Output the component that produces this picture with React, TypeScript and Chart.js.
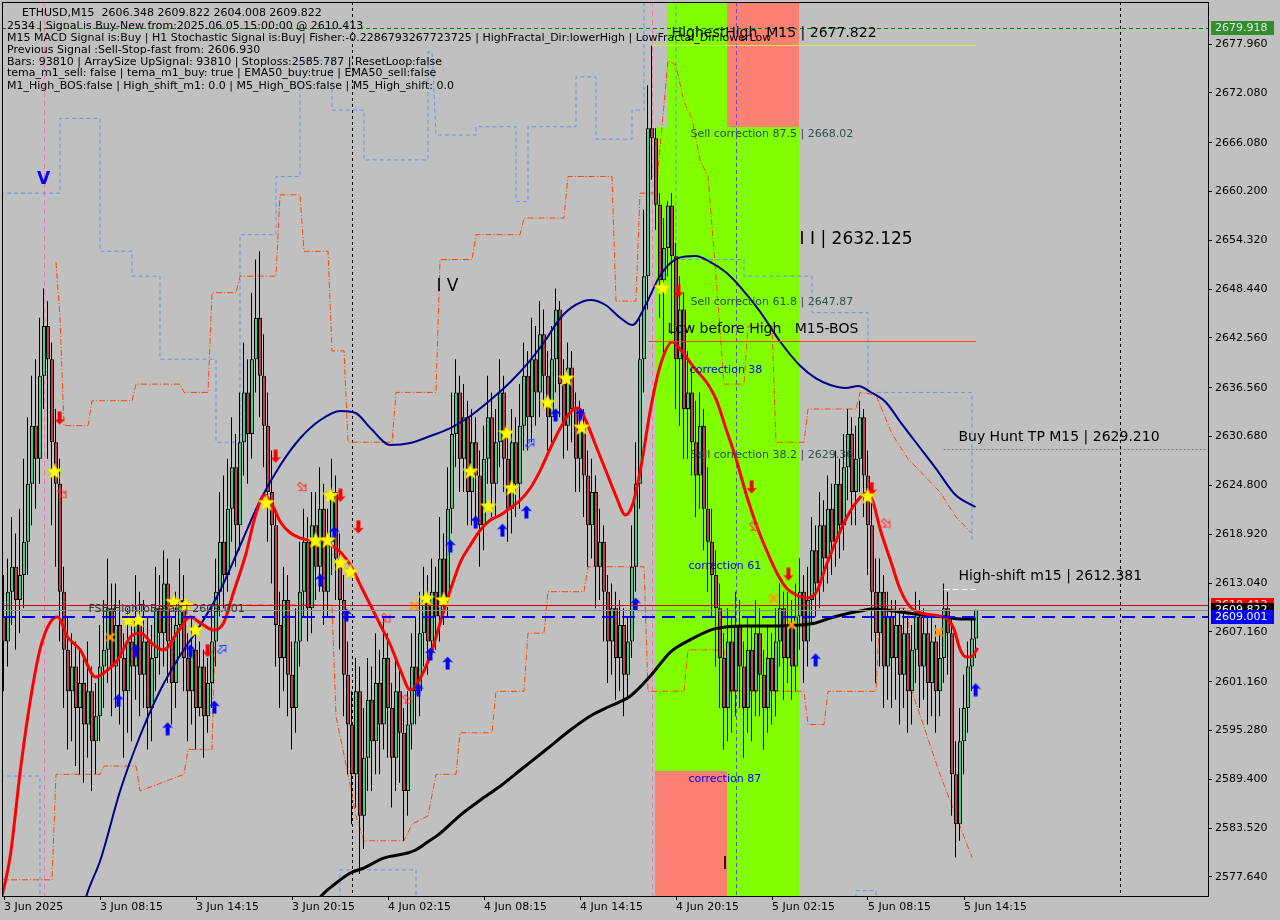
import React, { useEffect, useRef } from "react";
import { Chart, registerables } from "chart.js";

Chart.register(...registerables);
Chart.defaults.font.family = "'DejaVu Sans', sans-serif";

// ---------------- data ----------------
const FIRST_OPEN = 2609;
const closes = [
  2606, 2612, 2615, 2611, 2614, 2618, 2625, 2632, 2628, 2638, 2644, 2640, 2630, 2625, 2612, 2605, 2600,
  2603, 2598, 2601, 2596, 2600, 2594, 2597, 2603, 2605, 2610, 2603, 2608, 2604, 2600, 2606, 2603,
  2609, 2602, 2606, 2598, 2604, 2610, 2607, 2613, 2606, 2601, 2608, 2611, 2604, 2600, 2605, 2598, 2603,
  2597, 2601, 2606, 2612, 2618, 2614, 2622, 2627, 2620, 2630, 2636, 2631, 2640, 2645, 2638,
  2632, 2624, 2620, 2608, 2604, 2611, 2602, 2598, 2606, 2612,
  2618, 2610, 2620, 2615, 2622, 2612, 2618, 2624, 2616, 2611,
  2602, 2596, 2590, 2600, 2585,
  2592, 2599, 2594, 2601, 2596, 2604, 2598, 2592, 2600, 2595, 2588, 2596,
  2603, 2600, 2607, 2611, 2606, 2612, 2609, 2616, 2611,
  2622, 2631, 2636, 2628, 2633, 2624, 2630, 2626,
  2620, 2628, 2633, 2625, 2630, 2636, 2628, 2622, 2630, 2625, 2632,
  2638, 2633, 2640, 2636, 2643, 2638, 2633, 2640, 2646,
  2637, 2632, 2639, 2634, 2628, 2632,
  2626, 2620, 2624, 2615, 2618, 2612, 2606, 2610,
  2604, 2608, 2602, 2606, 2615,
  2625, 2640, 2650, 2667.8, 2666.6, 2658.6,
  2649.5, 2653.4, 2658.5, 2652.4, 2640, 2646, 2634,
  2636, 2630, 2626, 2632, 2622, 2618, 2614,
  2610, 2604, 2598, 2606, 2600, 2608, 2603, 2598, 2605, 2600, 2607, 2602, 2598,
  2604, 2600, 2606, 2610, 2604, 2608, 2603, 2609, 2612,
  2606, 2611, 2617, 2613, 2620, 2616, 2622, 2618,
  2625, 2620, 2627, 2631, 2624, 2628, 2633, 2626, 2620,
  2612, 2607, 2612, 2603, 2609, 2604,
  2608, 2602, 2607, 2600, 2605, 2609, 2603, 2607, 2601, 2606, 2600, 2604, 2610, 2607,
  2590, 2584, 2594, 2598, 2603, 2606.348, 2609.822,
];
const highs = [
  2614, 2616, 2621, 2619, 2622, 2628, 2633, 2638, 2640, 2645,
  2648.5, 2647, 2642, 2634, 2628, 2615, 2609, 2607, 2606, 2605,
  2604, 2606, 2603, 2601, 2608, 2611, 2616, 2613, 2613, 2611,
  2607, 2610, 2609, 2614, 2612, 2611, 2609, 2608, 2615, 2614,
  2617, 2616, 2609, 2612, 2616, 2614, 2607, 2609, 2608, 2606,
  2605, 2604, 2610, 2616, 2624, 2626, 2628, 2633, 2631, 2636,
  2642, 2640, 2648, 2652, 2653, 2643, 2636, 2629, 2622, 2612,
  2615, 2614, 2606, 2610, 2618, 2622, 2621, 2624, 2624, 2627,
  2625, 2622, 2628, 2626, 2619, 2614, 2606, 2600, 2604, 2603,
  2598, 2604, 2603, 2607, 2605, 2609, 2607, 2601, 2604, 2603,
  2598, 2600, 2607, 2609, 2612, 2615, 2614, 2616, 2615, 2621,
  2619, 2627, 2636, 2640, 2638, 2637, 2635, 2634, 2633, 2629,
  2632, 2638, 2636, 2634, 2640, 2638, 2631, 2634, 2633, 2637,
  2642, 2641, 2645, 2644, 2647, 2646, 2641, 2644, 2648.5, 2647,
  2640, 2642, 2641, 2636, 2635, 2634, 2629, 2628, 2626, 2622,
  2620, 2614, 2613, 2612, 2611, 2610, 2609, 2620, 2630, 2645,
  2658, 2673, 2677.8, 2667.8, 2660, 2657, 2659, 2660, 2654, 2650,
  2648, 2641, 2639, 2635, 2636, 2634, 2627, 2622, 2617, 2613,
  2607, 2610, 2609, 2612, 2611, 2606, 2609, 2608, 2611, 2610,
  2605, 2608, 2607, 2610, 2613, 2612, 2612, 2611, 2613, 2616,
  2614, 2615, 2621, 2620, 2624, 2623, 2626, 2625, 2629, 2628,
  2631, 2634, 2633, 2632, 2635, 2634, 2629, 2623, 2616, 2616,
  2614, 2612, 2611, 2611, 2610, 2610, 2609, 2608, 2612, 2611,
  2610, 2609, 2609, 2608, 2607, 2613, 2612, 2609, 2594, 2598,
  2602, 2606, 2609, 2609.822,
];
const lows = [
  2600, 2603, 2608, 2605, 2607, 2610, 2614, 2620, 2622, 2625,
  2634, 2628, 2620, 2615, 2606, 2598, 2593, 2594, 2591, 2590,
  2589, 2592, 2588, 2590, 2594, 2598, 2601, 2597, 2598, 2596,
  2592, 2595, 2594, 2599, 2597, 2598, 2593, 2594, 2600, 2602,
  2603, 2601, 2596, 2598, 2604, 2600, 2594, 2596, 2593, 2597,
  2592, 2595, 2598, 2603, 2609, 2610, 2612, 2618, 2615, 2617,
  2626, 2625, 2628, 2636, 2633, 2627, 2618, 2613, 2603, 2598,
  2600, 2597, 2593, 2595, 2603, 2609, 2606, 2607, 2611, 2612,
  2608, 2609, 2614, 2611, 2605, 2597, 2590, 2584, 2586, 2578,
  2581, 2588, 2588, 2590, 2590, 2593, 2592, 2586, 2588, 2589,
  2582, 2585, 2593, 2596, 2597, 2603, 2602, 2604, 2605, 2606,
  2608, 2609, 2619, 2627, 2624, 2624, 2620, 2620, 2621, 2615,
  2617, 2625, 2621, 2621, 2627, 2624, 2618, 2619, 2621, 2622,
  2629, 2629, 2630, 2632, 2633, 2634, 2629, 2630, 2636, 2633,
  2628, 2629, 2630, 2624, 2624, 2621, 2615, 2616, 2610, 2611,
  2606, 2601, 2602, 2599, 2600, 2597, 2599, 2604, 2612, 2622,
  2636, 2646, 2661.6, 2655.6, 2645, 2640, 2650, 2643, 2634, 2632,
  2628, 2628, 2626, 2621, 2622, 2617, 2612, 2609, 2603, 2598,
  2593, 2594, 2595, 2597, 2598, 2592, 2595, 2594, 2597, 2597,
  2593, 2595, 2596, 2597, 2603, 2599, 2601, 2599, 2600, 2605,
  2601, 2603, 2608, 2609, 2610, 2612, 2613, 2614, 2615, 2616,
  2617, 2623, 2620, 2620, 2624, 2621, 2614, 2606, 2601, 2603,
  2598, 2599, 2598, 2599, 2596, 2598, 2595, 2596, 2601, 2598,
  2599, 2596, 2597, 2595, 2597, 2601, 2602, 2585, 2580, 2582,
  2590, 2595, 2600, 2604.008,
];

const xTickIndex = [0, 24, 48, 72, 96, 120, 144, 168, 192, 216, 240];
const xTickLabels = [
  "3 Jun 2025", "3 Jun 08:15", "3 Jun 14:15", "3 Jun 20:15", "4 Jun 02:15", "4 Jun 08:15",
  "4 Jun 14:15", "4 Jun 20:15", "5 Jun 02:15", "5 Jun 08:15", "5 Jun 14:15",
];
const yTickValues = [
  2677.96, 2672.08, 2666.08, 2660.2, 2654.32, 2648.44, 2642.56, 2636.56, 2630.68,
  2624.8, 2618.92, 2613.04, 2607.16, 2601.16, 2595.28, 2589.4, 2583.52, 2577.64,
];
const yTickLabels = [
  "2677.960", "2672.080", "2666.080", "2660.200", "2654.320", "2648.440", "2642.560", "2636.560", "2630.680",
  "2624.800", "2618.920", "2613.040", "2607.160", "2601.160", "2595.280", "2589.400", "2583.520", "2577.640",
];

// moving averages (candle index, price)
const redMA = [
  [-1, 2574.26], [1.6, 2580.28], [4.1, 2590.52], [6.6, 2598.95], [9.1, 2605.22], [11.6, 2608.35], [13.4, 2608.95],
  [15.9, 2606.54], [19.1, 2604.97], [22.9, 2601.72], [25.9, 2602.57], [28.4, 2603.77], [31.6, 2606.54], [34.1, 2607.02],
  [37.4, 2605.58], [39.9, 2604.97], [43.4, 2607.14], [46.6, 2608.95], [49.1, 2608.23], [52.4, 2607.38], [54.9, 2608.23],
  [57.4, 2611.96], [60.4, 2616.42], [62.9, 2621.23], [65.1, 2623.64], [67.1, 2622.44], [69.1, 2620.39], [71.6, 2619.07],
  [74.1, 2618.46], [76.6, 2618.22], [79.1, 2618.22], [81.6, 2617.62], [84.1, 2616.78], [86.6, 2615.21], [89.1, 2612.8],
  [91.6, 2610.39], [94.1, 2607.99], [96.6, 2605.58], [99.1, 2602.57], [101.6, 2600.16], [104.1, 2601.6], [106.6, 2604.37],
  [109.1, 2608.35], [111.6, 2612.2], [114.1, 2615.57], [116.6, 2617.62], [119.1, 2619.43], [121.6, 2620.63], [124.1, 2621.23],
  [126.6, 2622.08], [129.1, 2623.04], [131.6, 2624.49], [134.1, 2626.65], [136.6, 2629.3], [139.1, 2631.71], [141.6, 2633.64],
  [143.6, 2634.12], [145.4, 2632.68], [147.9, 2629.66], [150.4, 2626.65], [152.9, 2623.64], [155.4, 2621.23], [157.1, 2622.44],
  [159.1, 2626.65], [161.6, 2633.88], [164.1, 2639.3], [167.1, 2642.07], [169.6, 2640.87], [172.6, 2638.94], [175.6, 2637.25],
  [178.1, 2635.08], [180.6, 2631.47], [183.1, 2627.86], [185.6, 2623.64], [188.1, 2620.03], [190.6, 2617.02], [193.1, 2614.37],
  [195.6, 2612.44], [198.1, 2611.6], [200.6, 2611.24], [203.1, 2611.96], [205.6, 2615.21], [208.1, 2618.22], [210.6, 2620.87],
  [213.1, 2622.8], [215.6, 2623.88], [217.1, 2623.04], [219.1, 2619.43], [221.6, 2615.81], [224.1, 2612.2], [226.6, 2610.15],
  [230.4, 2609.31], [235.4, 2608.83], [237.4, 2607.62], [239.1, 2604.97], [240.6, 2604.13], [242.1, 2604.25], [243.4, 2605.22],
];
const navyMA = [
  [19.1, 2572.46], [20.6, 2575.35], [24.1, 2579.68], [29.1, 2588.11], [34.1, 2594.74], [39.1, 2600.16], [44.1, 2604.37],
  [49.1, 2607.99], [54.1, 2612.2], [59.1, 2617.62], [64.1, 2623.04], [69.1, 2627.26], [74.1, 2630.51], [79.1, 2632.68],
  [84.1, 2633.76], [87.9, 2633.52], [91.6, 2631.71], [96.6, 2629.66], [101.6, 2629.9], [106.6, 2630.75], [111.6, 2631.71],
  [116.6, 2633.16], [121.6, 2635.08], [126.6, 2637.25], [131.6, 2639.9], [135.4, 2642.31], [139.1, 2644.96], [142.9, 2646.53],
  [146.6, 2647.13], [150.4, 2646.53], [154.1, 2644.96], [157.1, 2644.12], [160.4, 2646.53], [164.1, 2650.14], [168.6, 2652.19],
  [172.9, 2652.43], [176.6, 2651.7], [180.4, 2650.5], [184.1, 2648.69], [189.1, 2645.68], [194.1, 2642.07], [199.1, 2639.18],
  [202.9, 2637.73], [206.6, 2636.89], [210.4, 2636.53], [213.6, 2636.77], [216.6, 2636.05], [220.4, 2634.84], [224.1, 2632.43],
  [227.9, 2630.03], [232.9, 2626.89], [237.9, 2623.64], [242.9, 2622.2],
];
const blackMA = [
  [77.9, 2574.26], [79.1, 2575.23], [82.4, 2576.67], [86.6, 2578.12], [89.9, 2578.72], [94.9, 2579.92], [100.9, 2580.53],
  [102.9, 2580.89], [105.9, 2581.85], [109.1, 2582.93], [114.1, 2585.1], [119.1, 2586.91], [124.1, 2588.6], [129.1, 2590.52],
  [135.4, 2592.93], [141.6, 2595.34], [146.6, 2597.03], [151.6, 2598.23], [156.6, 2599.43], [161.6, 2601.84], [166.6, 2604.73],
  [171.6, 2606.22], [176.6, 2607.38], [180.4, 2607.74], [185.4, 2607.86], [191.6, 2607.86], [199.1, 2607.99], [202.9, 2608.23],
  [206.6, 2608.83], [210.4, 2609.31], [214.1, 2609.67], [217.1, 2609.91], [220.4, 2609.79], [224.1, 2609.55], [227.9, 2609.31],
  [231.6, 2609.07], [235.4, 2608.95], [239.1, 2608.71], [242.9, 2608.71],
];

// step envelopes (candle index, price)
const orangeUpper = [
  [13, 2651.7], [14, 2645], [15, 2632], [21, 2632], [22, 2635], [32, 2635], [33, 2637], [44, 2637], [45, 2636], [51, 2636],
  [52, 2648], [58, 2648], [59, 2650], [68, 2650], [69, 2659.8], [74, 2659.8], [75, 2653], [81, 2653], [82, 2641], [85, 2641],
  [86, 2630], [97, 2630], [98, 2636], [108, 2636], [109, 2652], [117, 2652], [118, 2655], [129, 2655], [130, 2657], [140, 2657],
  [141, 2662], [152, 2662], [153, 2647], [158, 2647], [159, 2660], [163, 2660], [166, 2676], [168, 2675.4], [170, 2671],
  [172, 2669], [174, 2664], [176, 2662], [178, 2650], [180, 2637], [185, 2637], [186, 2644], [192, 2644], [193, 2630],
  [200, 2630], [201, 2634], [213, 2634], [214, 2636], [218, 2635.7], [222, 2631], [226, 2628], [230, 2626], [234, 2624],
  [238, 2621], [242, 2619],
];
const orangeLower = [
  [-1, 2577.3], [12, 2577.3], [13, 2590], [24, 2590], [25, 2591], [33, 2591], [34, 2588], [45, 2590], [46, 2593], [52, 2593],
  [53, 2610.4], [82, 2610.4], [83, 2597], [86, 2590], [88, 2585], [90, 2582], [100, 2582], [102, 2584], [106, 2585],
  [108, 2590], [113, 2590], [114, 2595], [122, 2595], [123, 2600], [130, 2600], [131, 2607], [135, 2607], [136, 2612],
  [145, 2612], [146, 2615], [160, 2615], [161, 2600], [170, 2600], [171, 2605], [180, 2605], [181, 2600], [200, 2600],
  [201, 2596], [205, 2596], [206, 2600], [218, 2600], [219, 2610], [226, 2610], [227, 2600], [234, 2590], [238, 2585],
  [242, 2580],
];
const blueUpper = [
  [-1, 2660], [14, 2660], [14, 2669], [24, 2669], [24, 2653], [32, 2653], [32, 2650], [39, 2650], [39, 2640], [53, 2640],
  [53, 2630], [59, 2630], [59, 2655], [68, 2655], [68, 2662], [74, 2662], [74, 2676], [82, 2676], [82, 2670], [90, 2670],
  [90, 2664], [106, 2664], [106, 2677], [107, 2677], [108, 2667], [118, 2667], [118, 2668], [128, 2668], [128, 2659],
  [131, 2659], [131, 2668], [143, 2668], [143, 2674], [148, 2674], [148, 2666.5], [157, 2666.5], [157, 2670], [160, 2670],
  [160, 2684], [168, 2684], [168, 2652], [185, 2652], [185, 2650], [202, 2650], [202, 2645.6], [216, 2645.6], [216, 2636],
  [242, 2636], [242, 2618],
];
const blueLower = [
  [-1, 2589.8], [9, 2589.8], [9, 2570], [84, 2570], [84, 2578.5], [103, 2578.5], [103, 2570], [213, 2570], [213, 2576],
  [218, 2576], [218, 2570], [243, 2570],
];

// signal markers (candle index, price)
const starPts = [
  [12.6, 2626.5], [31.1, 2608.6], [33.6, 2608.6], [42.4, 2610.8], [45.4, 2610.4], [47.9, 2607.4], [65.6, 2622.7],
  [77.9, 2618.2], [80.9, 2618.2], [81.6, 2623.6], [84.1, 2615.5], [86.6, 2614.4], [105.6, 2611.2], [109.9, 2611.0],
  [116.6, 2626.5], [121.1, 2622.3], [125.6, 2631.1], [126.9, 2624.5], [135.9, 2634.8], [140.6, 2637.7], [144.4, 2631.8],
  [164.6, 2648.6], [215.9, 2623.5],
];
const buyArrowPts = [
  [28.6, 2598.9], [32.9, 2604.9], [40.9, 2595.5], [46.6, 2604.9], [52.6, 2598.1], [79.1, 2613.4], [82.6, 2619.1],
  [85.6, 2609.2], [103.6, 2600.2], [106.6, 2604.5], [110.9, 2603.4], [111.6, 2617.5], [117.9, 2620.4], [124.6, 2619.4],
  [130.6, 2621.6], [137.9, 2633.3], [144.1, 2633.3], [157.9, 2610.5], [202.9, 2603.8], [242.9, 2600.2],
];
const sellArrowPts = [
  [13.9, 2632.9], [50.9, 2604.9], [67.9, 2628.3], [84.1, 2623.6], [88.6, 2619.8], [168.6, 2648.2], [186.9, 2624.6],
  [196.1, 2614.1], [216.9, 2624.4],
];
const crossPts = [[26.6, 2606.5], [77.6, 2617.9], [102.6, 2610.3], [192.4, 2611.2], [196.9, 2608.0], [233.6, 2607.1]];
const hollowSellPts = [[14.6, 2623.8], [74.6, 2624.6], [95.6, 2608.8], [100.9, 2599.0], [187.6, 2619.8], [220.6, 2620.2]];
const hollowBuyPts = [[54.6, 2605.1], [131.6, 2629.9]];

// zones [i0, i1, pLow, pHigh]
const greenZones = [
  [165.75, 180.75, 2668.02, 2690],
  [162.75, 198.75, 2590.4, 2668.02],
  [180.75, 198.75, 2560, 2590.4],
];
const salmonZones = [
  [180.75, 198.75, 2668.02, 2690],
  [162.75, 180.75, 2560, 2590.4],
];

// price levels
const levelAsk = 2679.918;
const levelHighestHigh = 2677.822;
const levelLowBeforeHigh = 2642.19;
const levelBuyHuntTP = 2629.21;
const levelHighShift = 2612.381;
const levelSignal = 2610.413;
const levelBid = 2609.822;
const levelFSB = 2609.001;

// vertical marks (candle index)
const pinkMarks = [9.9, 162.0];
const daySeparators = [87, 279];
const daySeparatorOnZone = [183];

// chart notes: [candle index, price, text]
const bigNotes = [
  [166.9, 2679.28, "HighestHigh  M15 | 2677.822"],
  [165.9, 2643.64, "Low before High   M15-BOS"],
  [238.6, 2630.63, "Buy Hunt TP M15 | 2629.210"],
  [238.6, 2613.89, "High-shift m15 | 2612.381"],
];
const hugeNotes = [
  [198.9, 2654.35, "I I | 2632.125"],
  [108.1, 2648.69, "I V"],
  [179.6, 2579.08, "I"],
];
const corrNotes = [
  [171.6, 2667.12, "Sell correction 87.5 | 2668.02"],
  [171.6, 2646.89, "Sell correction 61.8 | 2647.87"],
  [171.6, 2628.46, "Sell correction 38.2 | 2629.36"],
];
const blueNotes = [
  [171.4, 2638.7, "correction 38"],
  [171.1, 2615.09, "correction 61"],
  [171.1, 2589.44, "correction 87"],
];
const fsbNote = [21.1, 2609.91, "FSB-HighToBreak | 2609.001"];
const waveNote = [9.9, 2661.58, "V"];

const infoLines = [
  "ETHUSD,M15  2606.348 2609.822 2604.008 2609.822",
  "2534 | Signal is Buy-New from:2025.06.05 15:00:00 @ 2610.413",
  "M15 MACD Signal is:Buy | H1 Stochastic Signal is:Buy| Fisher:-0.2286793267723725 | HighFractal_Dir:lowerHigh | LowFractal_Dir:lowerLow",
  "Previous Signal :Sell-Stop-fast from: 2606.930",
  "Bars: 93810 | ArraySize UpSignal: 93810 | Stoploss:2585.787 | ResetLoop:false",
  "tema_m1_sell: false | tema_m1_buy: true | EMA50_buy:true | EMA50_sell:false",
  "M1_High_BOS:false | High_shift_m1: 0.0 | M5_High_BOS:false | M5_High_shift: 0.0",
];

// ---------------- helpers ----------------
const X_MIN = -0.5;
const X_MAX = 301;
const Y_MIN = 2575.35;
const Y_MAX = 2683.02;
const WICK_SHIFT = -0.125; // puts the 1px wick on a whole pixel

const pts = (a: number[][]) => a.map((v) => ({ x: v[0], y: v[1] }));

function mk(w: number, h: number, draw: (g: CanvasRenderingContext2D) => void) {
  const c = document.createElement("canvas");
  c.width = w;
  c.height = h;
  draw(c.getContext("2d") as CanvasRenderingContext2D);
  return c;
}
function arrowPath(g: CanvasRenderingContext2D, s: number) {
  g.beginPath();
  g.moveTo(0, -6.5 * s);
  g.lineTo(5.5 * s, -0.5 * s);
  g.lineTo(2 * s, -1.5 * s);
  g.lineTo(2 * s, 6.5 * s);
  g.lineTo(-2 * s, 6.5 * s);
  g.lineTo(-2 * s, -1.5 * s);
  g.lineTo(-5.5 * s, -0.5 * s);
  g.closePath();
}
function makeStar() {
  return mk(18, 18, (g) => {
    g.beginPath();
    for (let k = 0; k < 10; k++) {
      const r = k % 2 === 0 ? 8.5 : 3.6;
      const a = -Math.PI / 2 + (k * Math.PI) / 5;
      g.lineTo(9 + r * Math.cos(a), 9.5 + r * Math.sin(a));
    }
    g.closePath();
    g.fillStyle = "#ffff00";
    g.fill();
    g.strokeStyle = "#d8c800";
    g.lineWidth = 0.7;
    g.stroke();
  });
}
function makeArrow(color: string, down: boolean) {
  return mk(12, 14, (g) => {
    g.translate(6, 7);
    if (down) g.rotate(Math.PI);
    arrowPath(g, 1);
    g.fillStyle = color;
    g.fill();
  });
}
function makeHollow(color: string, angle: number) {
  return mk(14, 14, (g) => {
    g.translate(7, 7);
    g.rotate(angle);
    arrowPath(g, 0.8);
    g.strokeStyle = color;
    g.lineWidth = 1;
    g.stroke();
  });
}
function makeCross() {
  return mk(12, 12, (g) => {
    g.strokeStyle = "#ff9a00";
    g.lineWidth = 2.6;
    g.beginPath();
    g.moveTo(2, 2);
    g.lineTo(10, 10);
    g.moveTo(10, 2);
    g.lineTo(2, 10);
    g.stroke();
  });
}

const decor = {
  id: "decor",
  beforeDraw(chart: any) {
    const ctx = chart.ctx;
    ctx.save();
    ctx.fillStyle = "#c0c0c0";
    ctx.fillRect(0, 0, chart.width, chart.height);
    ctx.restore();
  },
  beforeDatasetsDraw(chart: any) {
    const { ctx, chartArea: a } = chart;
    const x = chart.scales.x;
    const y = chart.scales.y;
    ctx.save();
    ctx.beginPath();
    ctx.rect(a.left, a.top, a.right - a.left, a.bottom - a.top);
    ctx.clip();
    const rect = (z: number[], color: string) => {
      const x0 = Math.round(x.getPixelForValue(z[0]));
      const x1 = Math.round(x.getPixelForValue(z[1]));
      const y0 = Math.round(y.getPixelForValue(z[3]));
      const y1 = Math.round(y.getPixelForValue(z[2]));
      ctx.fillStyle = color;
      ctx.fillRect(x0, y0, x1 - x0, y1 - y0);
    };
    greenZones.forEach((z) => rect(z, "#7fff00"));
    salmonZones.forEach((z) => rect(z, "#fa8072"));
    const vline = (i: number, color: string, dash: number[]) => {
      const xx = Math.round(x.getPixelForValue(i)) + 0.5;
      ctx.strokeStyle = color;
      ctx.lineWidth = 1;
      ctx.setLineDash(dash);
      ctx.beginPath();
      ctx.moveTo(xx, a.top);
      ctx.lineTo(xx, a.bottom);
      ctx.stroke();
    };
    pinkMarks.forEach((i) => vline(i, "#f078b0", [5, 4]));
    daySeparators.forEach((i) => vline(i, "#000000", [3, 3]));
    daySeparatorOnZone.forEach((i) => vline(i, "#6a4cc8", [4, 3]));
    ctx.restore();
  },
  afterDatasetsDraw(chart: any) {
    const { ctx, chartArea: a } = chart;
    const x = chart.scales.x;
    const y = chart.scales.y;
    ctx.save();
    ctx.beginPath();
    ctx.rect(a.left, a.top, a.right - a.left, a.bottom - a.top);
    ctx.clip();
    const hline = (p: number, i0: number, i1: number, color: string, dash: number[], w: number) => {
      const yy = Math.round(y.getPixelForValue(p)) + (w % 2 ? 0.5 : 0);
      ctx.strokeStyle = color;
      ctx.lineWidth = w;
      ctx.setLineDash(dash);
      ctx.beginPath();
      ctx.moveTo(x.getPixelForValue(i0), yy);
      ctx.lineTo(x.getPixelForValue(i1), yy);
      ctx.stroke();
    };
    hline(levelAsk, X_MIN, X_MAX, "#008000", [4, 3], 1);
    hline(levelHighestHigh, 161.9, 243, "#c8f03c", [], 1);
    hline(levelLowBeforeHigh, 161.1, 243, "#ff4500", [], 1);
    hline(levelBuyHuntTP, 234.9, X_MAX, "#7a7a7a", [2, 2], 1);
    hline(levelHighShift, 234.9, 243, "#ffffff", [6, 3], 1);
    hline(levelSignal, X_MIN, X_MAX, "#d00000", [], 1);
    hline(levelBid, X_MIN, X_MAX, "#8c8c8c", [], 1);
    hline(levelFSB, X_MIN, X_MAX, "#0000ff", [13, 7], 2);
    ctx.setLineDash([]);

    const text = (n: any[], font: string, color: string, align: CanvasTextAlign = "left") => {
      ctx.font = font;
      ctx.fillStyle = color;
      ctx.textAlign = align;
      ctx.textBaseline = "middle";
      ctx.fillText(n[2], x.getPixelForValue(n[0]), y.getPixelForValue(n[1]));
    };
    corrNotes.forEach((n) => text(n, "11px 'DejaVu Sans'", "#2f4f4f"));
    blueNotes.forEach((n) => text(n, "11px 'DejaVu Sans'", "#0000ff"));
    text(fsbNote, "11px 'DejaVu Sans'", "#333333");
    bigNotes.forEach((n) => text(n, "14px 'DejaVu Sans'", "#000000"));
    hugeNotes.forEach((n) => text(n, "17px 'DejaVu Sans'", "#000000"));
    text(waveNote, "bold 17px 'DejaVu Sans'", "#0000ff", "center");
    ctx.restore();

    ctx.save();
    ctx.font = "11px 'DejaVu Sans'";
    ctx.fillStyle = "#000000";
    ctx.textBaseline = "middle";
    ctx.textAlign = "left";
    const ys = [13, 26, 38, 50, 62, 73, 86];
    infoLines.forEach((s, k) => ctx.fillText(s, k === 0 ? 22 : 7, ys[k]));
    ctx.restore();
  },
  afterDraw(chart: any) {
    const { ctx, chartArea: a } = chart;
    const y = chart.scales.y;
    ctx.save();
    ctx.strokeStyle = "#000";
    ctx.lineWidth = 1;
    ctx.setLineDash([]);
    ctx.strokeRect(a.left + 0.5, a.top + 0.5, a.right - a.left, a.bottom - a.top);
    const tag = (p: number, bg: string, fg: string, label: string) => {
      const yy = Math.round(y.getPixelForValue(p));
      ctx.fillStyle = bg;
      ctx.fillRect(a.right + 3, yy - 7, 63, 14);
      ctx.fillStyle = fg;
      ctx.font = "11px 'DejaVu Sans'";
      ctx.textAlign = "left";
      ctx.textBaseline = "middle";
      ctx.fillText(label, a.right + 7, yy);
    };
    tag(levelAsk, "#2f8f2f", "#e8e8e8", levelAsk.toFixed(3));
    tag(levelSignal, "#ff0000", "#ffffff", levelSignal.toFixed(3));
    tag(levelBid, "#000000", "#ffffff", levelBid.toFixed(3));
    tag(levelFSB, "#0000ff", "#ffffff", levelFSB.toFixed(3));
    ctx.restore();
  },
};

export default function App() {
  const ref = useRef<HTMLCanvasElement>(null);
  useEffect(() => {
    document.body.style.margin = "0";
    const opens = closes.map((c, i) => (i === 0 ? FIRST_OPEN : closes[i - 1]));
    const bodies = closes.map((c, i) => ({ x: i, y: [opens[i], c] }));
    const wicks = closes.map((c, i) => ({ x: i + WICK_SHIFT, y: [lows[i], highs[i]] }));
    const bodyColors = closes.map((c, i) => (c >= opens[i] ? "#33d68a" : "#c43c4a"));

    const star = makeStar();
    const up = makeArrow("#0000ff", false);
    const down = makeArrow("#ff0000", true);
    const cross = makeCross();
    const hSell = makeHollow("#ff3030", (3 * Math.PI) / 4);
    const hBuy = makeHollow("#3050ff", Math.PI / 4);

    const scatter = (data: number[][], style: any, order: number) => ({
      type: "scatter",
      data: pts(data),
      pointStyle: style,
      pointRadius: 6,
      pointHoverRadius: 6,
      borderWidth: 0,
      order,
    });
    const stepLine = (data: number[][], color: string, dash: number[]) => ({
      type: "line",
      data: pts(data),
      borderColor: color,
      borderWidth: 1,
      borderDash: dash,
      pointRadius: 0,
      tension: 0,
      fill: false,
      order: 20,
    });
    const maLine = (data: number[][], color: string, w: number, order: number) => ({
      type: "line",
      data: pts(data),
      borderColor: color,
      borderWidth: w,
      pointRadius: 0,
      cubicInterpolationMode: "monotone",
      fill: false,
      order,
    });

    const axisFont = { family: "'DejaVu Sans'", size: 11 };
    const chart = new Chart(ref.current as HTMLCanvasElement, {
      type: "bar",
      data: {
        datasets: [
          stepLine(orangeUpper, "#ff4500", [6, 2, 1, 2]),
          stepLine(orangeLower, "#ff4500", [6, 2, 1, 2]),
          stepLine(blueUpper, "#6495ed", [4, 3]),
          stepLine(blueLower, "#6495ed", [4, 3]),
          {
            type: "bar",
            data: wicks,
            backgroundColor: "#000000",
            borderWidth: 0,
            barThickness: 1,
            grouped: false,
            inflateAmount: 0,
            order: 12,
          },
          {
            type: "bar",
            data: bodies,
            backgroundColor: bodyColors,
            borderColor: "#000000",
            borderWidth: 1,
            borderSkipped: false,
            barThickness: 4,
            grouped: false,
            inflateAmount: 0,
            minBarLength: 1,
            order: 11,
          },
          maLine(blackMA, "#000000", 3, 6),
          maLine(navyMA, "#00008b", 2, 5),
          maLine(redMA, "#ff0000", 3, 4),
          scatter(hollowSellPts, hSell, 3),
          scatter(hollowBuyPts, hBuy, 3),
          scatter(crossPts, cross, 2),
          scatter(buyArrowPts, up, 2),
          scatter(sellArrowPts, down, 2),
          scatter(starPts, star, 1),
        ] as any,
      },
      options: {
        animation: false,
        responsive: false,
        maintainAspectRatio: false,
        events: [],
        layout: { autoPadding: false, padding: { left: 2, top: 2, right: 0, bottom: 0 } },
        plugins: { legend: { display: false }, tooltip: { enabled: false }, title: { display: false } },
        scales: {
          x: {
            type: "linear",
            min: X_MIN,
            max: X_MAX,
            bounds: "data",
            offset: false,
            position: "bottom",
            grid: { display: true, offset: false, drawOnChartArea: false, drawTicks: true, tickLength: 4, color: "#000000" },
            border: { display: false },
            ticks: {
              autoSkip: false,
              maxRotation: 0,
              minRotation: 0,
              align: "start",
              padding: 1,
              color: "#000000",
              font: axisFont,
              callback: (_v: any, idx: number) => xTickLabels[idx] ?? "",
            },
            afterBuildTicks: (s: any) => {
              s.ticks = xTickIndex.map((v) => ({ value: v }));
            },
            afterFit: (s: any) => {
              s.height = 24;
              s.paddingLeft = 0;
              s.paddingRight = 0;
            },
          },
          y: {
            type: "linear",
            position: "right",
            min: Y_MIN,
            max: Y_MAX,
            bounds: "data",
            grid: { display: true, drawOnChartArea: false, drawTicks: true, tickLength: 4, color: "#000000" },
            border: { display: false },
            ticks: {
              autoSkip: false,
              padding: 3,
              color: "#000000",
              font: axisFont,
              callback: (_v: any, idx: number) => yTickLabels[idx] ?? "",
            },
            afterBuildTicks: (s: any) => {
              s.ticks = yTickValues.map((v) => ({ value: v }));
            },
            afterFit: (s: any) => {
              s.width = 72;
              s.paddingTop = 0;
              s.paddingBottom = 0;
            },
          },
        },
      } as any,
      plugins: [decor],
    });
    return () => chart.destroy();
  }, []);
  return (
    <div style={{ position: "absolute", left: 0, top: 0, width: 1280, height: 920, background: "#c0c0c0" }}>
      <canvas ref={ref} width={1280} height={920} style={{ display: "block", width: 1280, height: 920 }} />
    </div>
  );
}
